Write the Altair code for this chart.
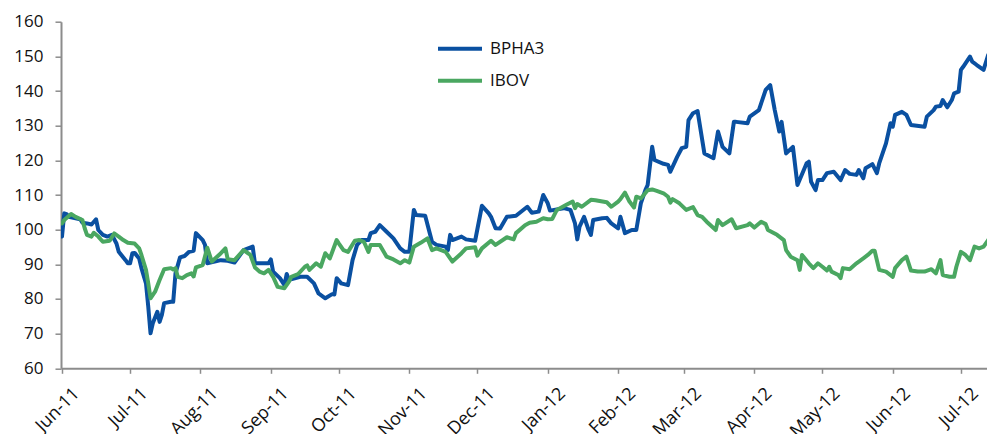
import altair as alt
import pandas as pd

series_names = ["BPHA3", "IBOV"]
series_colors = ["#0a50a1", "#4aa761"]
y_ticks = [60, 70, 80, 90, 100, 110, 120, 130, 140, 150, 160]
month_ticks = ["2011-06-01", "2011-07-01", "2011-08-01", "2011-09-01", "2011-10-01",
               "2011-11-01", "2011-12-01", "2012-01-01", "2012-02-01", "2012-03-01",
               "2012-04-01", "2012-05-01", "2012-06-01", "2012-07-01"]

bpha3_dates = [
    "2011-06-01", "2011-06-02", "2011-06-03", "2011-06-04", "2011-06-09", "2011-06-10", "2011-06-12",
    "2011-06-14", "2011-06-16", "2011-06-17", "2011-06-19", "2011-06-21", "2011-06-23", "2011-06-25",
    "2011-06-26", "2011-06-29", "2011-06-30", "2011-07-01", "2011-07-02", "2011-07-03", "2011-07-05",
    "2011-07-06", "2011-07-08", "2011-07-09", "2011-07-10", "2011-07-11", "2011-07-13", "2011-07-14",
    "2011-07-15", "2011-07-16", "2011-07-19", "2011-07-20", "2011-07-21", "2011-07-23", "2011-07-25",
    "2011-07-27", "2011-07-29", "2011-07-30", "2011-08-02", "2011-08-03", "2011-08-04", "2011-08-10",
    "2011-08-13", "2011-08-16", "2011-08-20", "2011-08-24", "2011-08-25", "2011-08-31", "2011-09-01",
    "2011-09-02", "2011-09-05", "2011-09-07", "2011-09-08", "2011-09-09", "2011-09-14", "2011-09-17",
    "2011-09-20", "2011-09-22", "2011-09-25", "2011-09-28", "2011-09-29", "2011-09-30", "2011-10-02",
    "2011-10-05", "2011-10-07", "2011-10-09", "2011-10-11", "2011-10-14", "2011-10-15", "2011-10-17",
    "2011-10-19", "2011-10-22", "2011-10-25", "2011-10-28", "2011-10-30", "2011-11-01", "2011-11-03",
    "2011-11-04", "2011-11-08", "2011-11-11", "2011-11-13", "2011-11-17", "2011-11-18", "2011-11-19",
    "2011-11-20", "2011-11-24", "2011-11-26", "2011-11-30", "2011-12-03", "2011-12-06", "2011-12-07",
    "2011-12-09", "2011-12-11", "2011-12-14", "2011-12-18", "2011-12-23", "2011-12-25", "2011-12-28",
    "2011-12-30", "2012-01-01", "2012-01-02", "2012-01-08", "2012-01-11", "2012-01-13", "2012-01-14",
    "2012-01-15", "2012-01-17", "2012-01-19", "2012-01-20", "2012-01-21", "2012-01-25", "2012-01-27",
    "2012-01-29", "2012-02-01", "2012-02-02", "2012-02-04", "2012-02-07", "2012-02-09", "2012-02-11",
    "2012-02-13", "2012-02-14", "2012-02-16", "2012-02-17", "2012-02-21", "2012-02-23", "2012-02-24",
    "2012-02-27", "2012-02-29", "2012-03-02", "2012-03-03", "2012-03-05", "2012-03-07", "2012-03-10",
    "2012-03-14", "2012-03-16", "2012-03-18", "2012-03-21", "2012-03-23", "2012-03-24", "2012-03-29",
    "2012-03-30", "2012-04-03", "2012-04-06", "2012-04-08", "2012-04-10", "2012-04-12", "2012-04-13",
    "2012-04-15", "2012-04-18", "2012-04-20", "2012-04-24", "2012-04-25", "2012-04-26", "2012-04-28",
    "2012-04-29", "2012-05-01", "2012-05-03", "2012-05-06", "2012-05-09", "2012-05-11", "2012-05-13",
    "2012-05-16", "2012-05-17", "2012-05-19", "2012-05-20", "2012-05-23", "2012-05-25", "2012-05-26",
    "2012-05-29", "2012-05-31", "2012-06-01", "2012-06-02", "2012-06-05", "2012-06-07", "2012-06-09",
    "2012-06-15", "2012-06-16", "2012-06-19", "2012-06-20", "2012-06-22", "2012-06-23", "2012-06-25",
    "2012-06-27", "2012-06-28", "2012-06-30", "2012-07-01", "2012-07-02", "2012-07-05", "2012-07-06",
    "2012-07-08", "2012-07-11", "2012-07-13"]
bpha3_values = [
    98.0, 104.7, 104.5, 103.7, 103.0, 102.0, 101.8,
    101.5, 103.0, 99.9, 98.5, 98.0, 98.5, 96.0,
    93.6, 91.2, 90.3, 90.3, 93.2, 93.3, 91.7,
    88.9, 84.5, 77.8, 70.1, 73.0, 76.3, 73.4,
    75.4, 78.8, 79.2, 79.2, 87.4, 92.0, 92.4,
    93.6, 93.9, 99.0, 97.0, 95.6, 90.3, 91.2,
    91.0, 90.5, 94.1, 95.1, 90.3, 90.3, 91.4,
    87.9, 86.0, 84.0, 87.2, 85.5, 86.4, 86.4,
    84.5, 81.6, 80.2, 81.4, 81.3, 86.0, 84.5,
    84.0, 91.2, 95.6, 97.0, 97.0, 99.0, 99.4,
    101.3, 99.4, 97.5, 94.6, 93.6, 93.6, 105.7,
    104.2, 104.0, 96.5, 95.6, 95.1, 94.1, 98.5,
    97.0, 98.0, 97.2, 96.8, 106.9, 104.7, 103.7,
    100.4, 100.3, 103.7, 104.0, 106.6, 104.9, 105.2,
    110.0, 107.6, 105.5, 106.2, 105.7, 101.8, 97.2,
    100.9, 103.7, 99.9, 98.5, 102.8, 103.3, 103.4,
    101.8, 100.4, 103.7, 99.0, 99.9, 99.9, 107.6,
    111.4, 112.9, 123.9, 120.1, 119.0, 118.7, 116.7,
    121.0, 123.5, 123.9, 131.6, 133.6, 134.2, 122.0,
    120.6, 128.3, 123.9, 122.0, 131.1, 131.1, 130.7,
    132.6, 134.5, 140.3, 141.7, 134.5, 128.3, 131.1,
    122.0, 123.9, 112.9, 119.1, 119.6, 113.8, 111.4,
    114.3, 114.3, 116.3, 116.7, 114.3, 117.2, 116.1,
    115.8, 117.2, 114.8, 117.7, 118.9, 116.3, 119.1,
    124.9, 130.7, 129.7, 133.1, 134.0, 133.1, 130.2,
    129.7, 132.6, 134.5, 135.5, 135.7, 137.4, 135.3,
    137.4, 139.3, 139.8, 146.1, 147.0, 149.9, 148.5,
    147.5, 146.1, 150.4]

ibov_dates = [
    "2011-06-01", "2011-06-02", "2011-06-05", "2011-06-07", "2011-06-10", "2011-06-11", "2011-06-12",
    "2011-06-14", "2011-06-15", "2011-06-17", "2011-06-19", "2011-06-22", "2011-06-24", "2011-06-26",
    "2011-06-28", "2011-06-30", "2011-07-03", "2011-07-05", "2011-07-06", "2011-07-08", "2011-07-09",
    "2011-07-10", "2011-07-12", "2011-07-14", "2011-07-16", "2011-07-19", "2011-07-20", "2011-07-21",
    "2011-07-22", "2011-07-24", "2011-07-26", "2011-07-28", "2011-07-29", "2011-07-30", "2011-08-02",
    "2011-08-04", "2011-08-06", "2011-08-10", "2011-08-12", "2011-08-13", "2011-08-16", "2011-08-20",
    "2011-08-23", "2011-08-25", "2011-08-27", "2011-08-29", "2011-08-31", "2011-09-02", "2011-09-04",
    "2011-09-07", "2011-09-09", "2011-09-10", "2011-09-13", "2011-09-16", "2011-09-17", "2011-09-18",
    "2011-09-21", "2011-09-23", "2011-09-25", "2011-09-27", "2011-09-30", "2011-10-01", "2011-10-03",
    "2011-10-05", "2011-10-08", "2011-10-10", "2011-10-12", "2011-10-14", "2011-10-15", "2011-10-19",
    "2011-10-22", "2011-10-25", "2011-10-28", "2011-10-30", "2011-11-01", "2011-11-03", "2011-11-06",
    "2011-11-09", "2011-11-11", "2011-11-13", "2011-11-17", "2011-11-20", "2011-11-24", "2011-11-26",
    "2011-11-30", "2011-12-01", "2011-12-03", "2011-12-07", "2011-12-09", "2011-12-14", "2011-12-17",
    "2011-12-18", "2011-12-22", "2011-12-24", "2011-12-27", "2011-12-30", "2012-01-01", "2012-01-03",
    "2012-01-05", "2012-01-09", "2012-01-12", "2012-01-13", "2012-01-14", "2012-01-16", "2012-01-20",
    "2012-01-22", "2012-01-27", "2012-01-29", "2012-02-01", "2012-02-02", "2012-02-04", "2012-02-06",
    "2012-02-08", "2012-02-09", "2012-02-11", "2012-02-14", "2012-02-16", "2012-02-18", "2012-02-21",
    "2012-02-23", "2012-02-24", "2012-02-25", "2012-02-28", "2012-03-02", "2012-03-05", "2012-03-07",
    "2012-03-09", "2012-03-11", "2012-03-15", "2012-03-16", "2012-03-18", "2012-03-22", "2012-03-24",
    "2012-03-29", "2012-03-30", "2012-04-01", "2012-04-04", "2012-04-06", "2012-04-07", "2012-04-11",
    "2012-04-14", "2012-04-15", "2012-04-17", "2012-04-20", "2012-04-21", "2012-04-22", "2012-04-25",
    "2012-04-27", "2012-04-29", "2012-05-01", "2012-05-03", "2012-05-04", "2012-05-05", "2012-05-08",
    "2012-05-09", "2012-05-10", "2012-05-13", "2012-05-16", "2012-05-19", "2012-05-21", "2012-05-23",
    "2012-05-24", "2012-05-26", "2012-05-29", "2012-06-01", "2012-06-02", "2012-06-05", "2012-06-07",
    "2012-06-09", "2012-06-12", "2012-06-15", "2012-06-18", "2012-06-20", "2012-06-22", "2012-06-23",
    "2012-06-26", "2012-06-28", "2012-06-29", "2012-07-01", "2012-07-03", "2012-07-05", "2012-07-07",
    "2012-07-09", "2012-07-11", "2012-07-13"]
ibov_values = [
    101.8, 102.8, 104.5, 103.7, 102.8, 100.4, 98.5,
    98.0, 99.1, 98.0, 96.5, 96.8, 98.9, 98.0,
    97.0, 96.2, 96.0, 94.6, 92.7, 88.4, 84.5,
    80.2, 82.1, 85.5, 88.6, 88.9, 88.5, 88.9,
    86.4, 86.0, 86.9, 87.4, 86.5, 89.1, 89.8,
    94.8, 90.8, 93.2, 94.6, 91.5, 91.2, 94.1,
    92.7, 89.1, 87.9, 87.4, 88.4, 86.4, 83.5,
    83.1, 85.0, 86.4, 87.2, 89.3, 89.7, 88.4,
    90.3, 89.3, 93.2, 91.7, 97.0, 96.0, 94.1,
    93.6, 96.8, 97.0, 96.5, 93.6, 95.6, 95.6,
    92.2, 91.4, 90.3, 91.2, 90.5, 95.1, 96.2,
    97.5, 94.1, 94.6, 93.6, 90.8, 93.2, 94.6,
    94.9, 92.5, 94.6, 96.8, 95.6, 97.8, 97.2,
    99.0, 101.3, 102.0, 102.3, 103.3, 103.0, 103.1,
    105.7, 107.1, 108.1, 106.2, 107.4, 106.6, 108.6,
    108.5, 107.9, 106.6, 108.1, 108.8, 110.7, 108.1,
    106.4, 109.5, 109.0, 111.4, 111.6, 111.2, 110.5,
    109.5, 107.8, 108.8, 107.6, 105.7, 106.5, 104.2,
    103.7, 102.3, 99.9, 102.8, 101.3, 103.0, 100.4,
    101.3, 101.8, 100.6, 102.3, 101.6, 99.9, 98.5,
    97.0, 94.1, 92.2, 91.2, 88.4, 92.7, 90.3,
    88.9, 90.3, 89.3, 88.2, 89.3, 87.9, 86.9,
    86.0, 88.9, 88.6, 90.3, 91.7, 92.7, 93.9,
    93.9, 88.4, 87.9, 86.4, 88.9, 91.2, 92.2,
    88.2, 87.9, 87.9, 88.6, 87.4, 91.2, 86.9,
    86.4, 86.4, 89.3, 93.6, 92.7, 91.2, 95.1,
    94.6, 95.1, 97.0]

df = pd.concat([
    pd.DataFrame({"date": pd.to_datetime(bpha3_dates), "value": bpha3_values, "series": series_names[0]}),
    pd.DataFrame({"date": pd.to_datetime(ibov_dates), "value": ibov_values, "series": series_names[1]}),
], ignore_index=True)

FONT = "Open Sans"
AXIS_GRAY = "#8c8c8c"

def dt(s, hours=0, minutes=0):
    return alt.DateTime(year=int(s[:4]), month=int(s[5:7]), date=int(s[8:10]), hours=hours, minutes=minutes)

x_axis = alt.Axis(
    values=[dt(s) for s in month_ticks], format="%b-%y", title=None,
    labelAngle=-45, labelAlign="right", labelBaseline="top",
    labelFont=FONT, labelFontSize=18, labelColor="#111111",
    labelPadding=11, labelOffset=8, labelOverlap=False, labelBound=False,
    domainColor=AXIS_GRAY, domainWidth=2, tickColor=AXIS_GRAY, tickWidth=1.5, tickSize=5,
    grid=False,
)
y_axis = alt.Axis(
    values=y_ticks, title=None, labelFont=FONT, labelFontSize=17, labelColor="#111111",
    labelPadding=12, domainColor=AXIS_GRAY, domainWidth=2, tickColor=AXIS_GRAY,
    tickWidth=1.5, tickSize=6, grid=False,
)

chart = alt.Chart(df).mark_line(strokeWidth=4, clip=True, strokeJoin="round", strokeCap="round").encode(
    x=alt.X("date:T", axis=x_axis,
            scale=alt.Scale(domain=[dt("2011-05-31", 13, 30), dt("2012-07-12", 12, 0)], nice=False)),
    y=alt.Y("value:Q", axis=y_axis, scale=alt.Scale(domain=[60, 160], nice=False, zero=False)),
    color=alt.Color("series:N",
                    scale=alt.Scale(domain=series_names, range=series_colors),
                    legend=alt.Legend(title=None, orient="none", legendX=375, legendY=3,
                                      symbolType="stroke", symbolSize=1936, symbolStrokeWidth=4,
                                      labelFont=FONT, labelFontSize=17, labelColor="#111111",
                                      labelOffset=6, rowPadding=-9, padding=0)),
    detail="series:N",
).properties(
    width=926, height=346.6,
    autosize=alt.AutoSizeParams(type="none"),
    padding={"left": 53, "top": 13.7, "right": 0, "bottom": 65.7},
    background="white",
).configure_view(stroke=None)

chart.save("out.html", embed_options={"renderer": "svg", "actions": False})
